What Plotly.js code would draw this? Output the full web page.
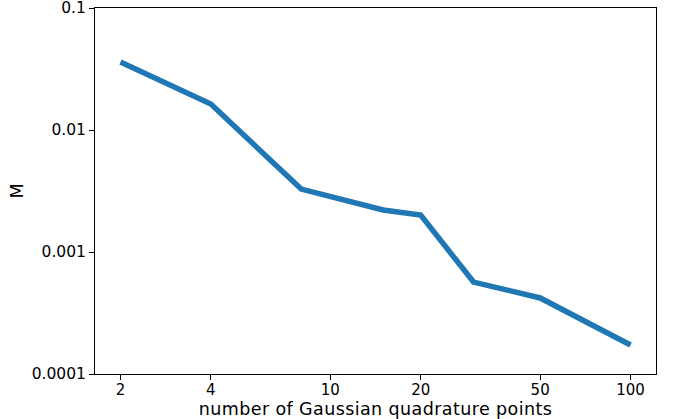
<!DOCTYPE html>
<html>
<head>
<meta charset="utf-8">
<script src="https://cdn.plot.ly/plotly-3.0.1.min.js"></script>
<style>html,body{margin:0;padding:0;background:#fff;}#chart{width:673px;height:419px;}
.g-xtitle text{letter-spacing:0.4px;}</style>
</head>
<body>
<div id="chart"></div>
<script>
const points = [2, 4, 8, 15, 20, 30, 50, 100];
const mValues = [0.0361, 0.0163, 0.00328, 0.00221, 0.00201, 0.000567, 0.00042, 0.000173];
const xTickVals = [2, 4, 10, 20, 50, 100];
const xTickText = ['2', '4', '10', '20', '50', '100'];
const yTickVals = [0.0001, 0.001, 0.01, 0.1];
const yTickText = ['0.0001', '0.001', '0.01', '0.1'];

const tickFont = {family: 'DejaVu Sans, sans-serif', size: 15, color: '#000'};
const yTickFont = {family: 'DejaVu Sans, sans-serif', size: 15.5, color: '#000'};
const titleFont = {family: 'DejaVu Sans, sans-serif', size: 17.5, color: '#000'};

Plotly.newPlot('chart', [{
  x: points, y: mValues, type: 'scatter', mode: 'lines',
  line: {color: '#1f77b4', width: 5.5}
}], {
  width: 673, height: 419,
  margin: {l: 95, r: 17, t: 8, b: 45},
  paper_bgcolor: '#fff', plot_bgcolor: '#fff',
  showlegend: false,
  font: tickFont,
  xaxis: {
    type: 'log', range: [0.2161, 2.0849],
    tickvals: xTickVals, ticktext: xTickText,
    ticks: 'outside', ticklen: 5, tickwidth: 1, tickcolor: '#000',
    ticklabelstandoff: -3,
    showline: true, linecolor: '#000', linewidth: 1, mirror: true,
    showgrid: false, zeroline: false,
    tickfont: tickFont, ticklabeloverflow: 'allow',
    title: {text: 'number of Gaussian quadrature points', font: titleFont, standoff: 0}
  },
  yaxis: {
    type: 'log', range: [-4, -1],
    tickvals: yTickVals, ticktext: yTickText,
    ticks: 'outside', ticklen: 5, tickwidth: 1, tickcolor: '#000',
    showline: true, linecolor: '#000', linewidth: 1, mirror: true,
    showgrid: false, zeroline: false,
    tickfont: yTickFont, ticklabeloverflow: 'allow',
    title: {text: 'M', font: titleFont, standoff: 3}
  }
}, {displayModeBar: false, staticPlot: true});
</script>
</body>
</html>
